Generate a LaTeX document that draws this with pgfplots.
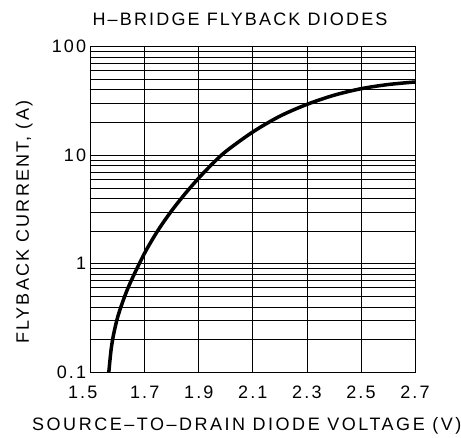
\documentclass[border=0pt]{standalone}
\usepackage{fontspec}
\setmainfont{Liberation Sans}[LetterSpace=12]
\usepackage{pgfplots}
\pgfplotsset{compat=1.18}
\newcommand{\lbl}{\fontsize{18}{18}\selectfont}
\begin{document}
\begin{tikzpicture}[x=1pt,y=1pt]
\useasboundingbox (-90.7,-64.7) rectangle (370.3,372.3);
\begin{axis}[
  at={(0,0)}, anchor=south west,
  scale only axis, width=324.3pt, height=325.6pt,
  xmin=1.5, xmax=2.7, ymode=log, ymin=0.1, ymax=100,
  xtick={1.5,1.7,1.9,2.1,2.3,2.5,2.7},
  xticklabels={{\hspace*{-8pt}1.5\hspace*{8pt}},1.7,1.9,2.1,2.3,2.5,2.7},
  ytick={0.1,1,10,100}, yticklabels={0.1,1,10,100},
  minor ytick={0.2,0.3,0.4,0.5,0.6,0.7,0.8,0.9,2,3,4,5,6,7,8,9,20,30,40,50,60,70,80,90},
  grid=both,
  major grid style={black, line width=0.8pt},
  minor grid style={black, line width=0.8pt},
  axis line style={black, line width=0.9pt},
  major tick length=0pt, minor tick length=0pt,
  /pgf/number format/assume math mode=true,
  tick label style={font=\lbl},
  xticklabel style={yshift=-10pt},
  yticklabel style={xshift=-1pt},
]
\addplot[black, line width=3.5pt, smooth] coordinates {
(1.567,0.1) (1.575,0.158) (1.584,0.219) (1.6,0.324) (1.625,0.495) (1.65,0.70)
(1.7,1.26) (1.75,2.05) (1.8,3.09) (1.85,4.44) (1.9,6.17) (1.95,8.32)
(2.0,10.84) (2.1,16.4) (2.2,22.9) (2.3,29.4) (2.4,35.7) (2.5,41.0)
(2.6,44.8) (2.7,47.3)
};
\end{axis}
\node[font=\lbl, inner sep=0pt] at (149.3,352.6) {H--BRIDGE FLYBACK DIODES};
\node[font=\lbl, inner sep=0pt, rotate=90] at (-66.4,150.3) {FLYBACK CURRENT, (A)};
\node[font=\lbl, inner sep=0pt, anchor=west] at (-58.7,-53.5) {\addfontfeature{LetterSpace=14}SOURCE--TO--DRAIN DIODE VOLTAGE (V)};
\end{tikzpicture}
\end{document}
